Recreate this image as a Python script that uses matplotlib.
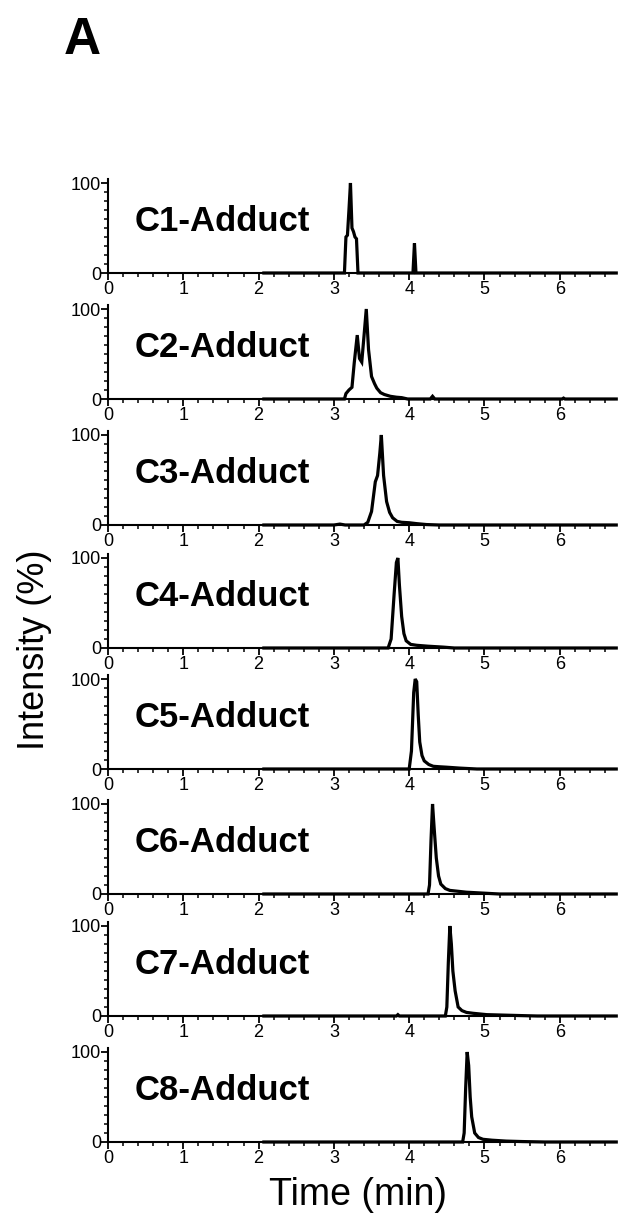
import matplotlib
matplotlib.use("Agg")
import matplotlib.pyplot as plt
from matplotlib.ticker import MultipleLocator

plt.rcParams['font.family'] = ['Liberation Sans', 'DejaVu Sans']

labels = ["C1-Adduct", "C2-Adduct", "C3-Adduct", "C4-Adduct",
          "C5-Adduct", "C6-Adduct", "C7-Adduct", "C8-Adduct"]

c1_t = [2.07, 3.14, 3.16, 3.18, 3.20, 3.22, 3.24, 3.26, 3.28, 3.30, 3.32, 4.05, 4.07, 4.09, 6.75]
c1_y = [0, 0, 40, 42, 70, 100, 50, 46, 40, 38, 0, 0, 33, 0, 0]

c2_t = [2.07, 3.14, 3.16, 3.20, 3.24, 3.27, 3.31, 3.34, 3.37, 3.40, 3.43, 3.46, 3.50, 3.54,
        3.57, 3.62, 3.67, 3.75, 3.83, 3.90, 3.98, 4.28, 4.31, 4.34, 6.03, 6.05, 6.07, 6.75]
c2_y = [0, 0, 6, 10, 13, 40, 71, 45, 41, 70, 100, 55, 25, 17,
        12, 7, 5, 3, 2, 1.5, 0, 0, 3, 0, 0, 1, 0, 0]

c3_t = [2.07, 3.00, 3.08, 3.15, 3.40, 3.45, 3.50, 3.55, 3.58, 3.61, 3.63, 3.66, 3.70, 3.74,
        3.78, 3.84, 3.90, 4.00, 4.10, 4.23, 4.40, 6.75]
c3_y = [0, 0, 1, 0, 0, 3, 15, 48, 55, 80, 100, 55, 26, 14,
        8, 4, 3, 2.5, 1.5, 0.5, 0, 0]

c4_t = [2.07, 3.72, 3.76, 3.80, 3.83, 3.85, 3.87, 3.90, 3.93, 3.96, 4.02, 4.10, 4.25, 4.45, 4.60, 6.75]
c4_y = [0, 0, 10, 60, 95, 100, 70, 35, 16, 8, 4, 3, 2, 1, 0, 0]

c5_t = [2.07, 4.00, 4.03, 4.06, 4.08, 4.10, 4.12, 4.14, 4.17, 4.20, 4.26, 4.32, 4.40, 4.50, 4.67, 4.90, 6.75]
c5_y = [0, 0, 20, 85, 100, 97, 60, 30, 15, 9, 5, 3, 2.5, 2, 1, 0, 0]

c6_t = [2.07, 4.25, 4.27, 4.29, 4.31, 4.33, 4.36, 4.39, 4.42, 4.48, 4.54, 4.65, 4.76, 4.98, 5.20, 6.75]
c6_y = [0, 0, 10, 60, 100, 75, 40, 20, 11, 6, 4, 3, 2, 1, 0, 0]

c7_t = [2.07, 3.83, 3.85, 3.87, 4.48, 4.50, 4.52, 4.54, 4.56, 4.58, 4.61, 4.65, 4.70, 4.76,
        4.85, 5.03, 5.47, 5.70, 6.75]
c7_y = [0, 0, 1.5, 0, 0, 10, 60, 100, 80, 50, 28, 10, 6, 4,
        3, 1.5, 0.5, 0, 0]

c8_t = [2.07, 4.71, 4.73, 4.75, 4.77, 4.79, 4.81, 4.83, 4.87, 4.92, 4.98, 5.10, 5.29, 5.50, 5.80, 6.75]
c8_y = [0, 0, 10, 60, 100, 85, 50, 28, 10, 5, 3, 2, 1, 0.5, 0, 0]

traces_t = [c1_t, c2_t, c3_t, c4_t, c5_t, c6_t, c7_t, c8_t]
traces_y = [c1_y, c2_y, c3_y, c4_y, c5_y, c6_y, c7_y, c8_y]

W, H = 624, 1221
fig = plt.figure(figsize=(W / 100, H / 100), dpi=100)

zero_px = [273, 399, 525, 648, 769, 894, 1016, 1142]
left_px, right_px = 108, 614
ytop = 104
ax_h_px = 90 * ytop / 100

for i in range(8):
    b = (H - zero_px[i]) / H
    ax = fig.add_axes([left_px / W, b, (right_px - left_px) / W, ax_h_px / H])
    ax.plot(traces_t[i], traces_y[i], color='black', lw=2.3, clip_on=False,
            solid_joinstyle='miter', zorder=3)
    ax.set_xlim(0, 6.72)
    ax.set_ylim(0, ytop)
    ax.spines['top'].set_visible(False)
    ax.spines['right'].set_visible(False)
    for s in ('left', 'bottom'):
        ax.spines[s].set_linewidth(1.5)
    ax.set_xticks(range(0, 7))
    ax.xaxis.set_minor_locator(MultipleLocator(0.2))
    ax.set_yticks([0, 100])
    ax.yaxis.set_minor_locator(MultipleLocator(10))
    ax.tick_params(which='major', length=5, width=1.3, labelsize=13, pad=1)
    ax.tick_params(which='minor', length=3, width=1.1)
    ax.tick_params(axis='y', pad=0)
    ax.text(0.36, 57, labels[i], fontsize=25, fontweight='bold', va='center', ha='left')
    ax.patch.set_alpha(0)

fig.text(35 / W, 1 - 650 / H, "Intensity (%)", rotation=90, fontsize=26,
         ha='center', va='center')
fig.text(358 / W, 1 - 1195 / H, "Time (min)", fontsize=27, ha='center', va='center')
fig.text(64 / W, 1 - 40 / H, "A", fontsize=37, fontweight='bold', ha='left', va='center')

fig.savefig("out.png", dpi=100)
